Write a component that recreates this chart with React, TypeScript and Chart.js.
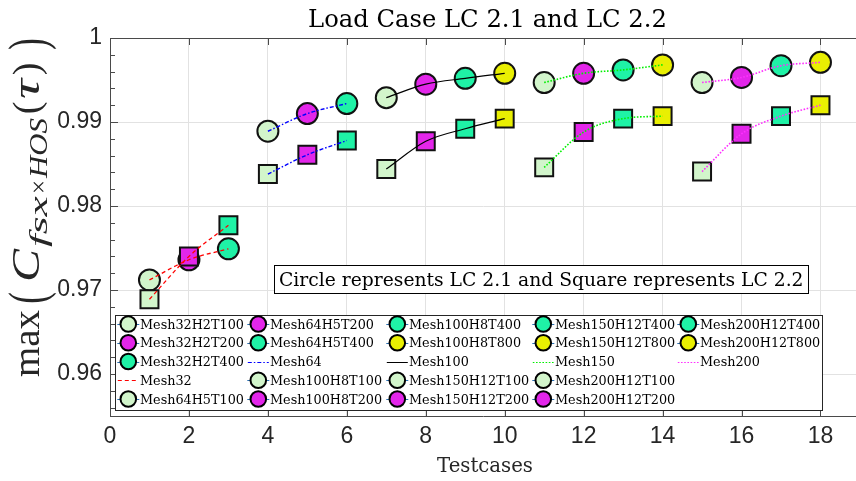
import React, { useEffect, useRef } from 'react';
import { Chart, registerables } from 'chart.js';

Chart.register(...registerables);

// ---------------- data ----------------
const caseNames = [
  'Mesh32H2T100', 'Mesh32H2T200', 'Mesh32H2T400',
  'Mesh64H5T100', 'Mesh64H5T200', 'Mesh64H5T400',
  'Mesh100H8T100', 'Mesh100H8T200', 'Mesh100H8T400', 'Mesh100H8T800',
  'Mesh150H12T100', 'Mesh150H12T200', 'Mesh150H12T400', 'Mesh150H12T800',
  'Mesh200H12T100', 'Mesh200H12T200', 'Mesh200H12T400', 'Mesh200H12T800',
];
const testcases = [1, 2, 3, 4, 5, 6, 7, 8, 9, 10, 11, 12, 13, 14, 15, 16, 17, 18];
// LC 2.1 (circles)
const lc21 = [0.9712, 0.9736, 0.9749, 0.9889, 0.9910, 0.9922, 0.9929, 0.9945, 0.9952, 0.9958,
  0.9947, 0.9958, 0.9962, 0.9968, 0.9947, 0.9953, 0.9967, 0.9971];
// LC 2.2 (squares)
const lc22 = [0.9689, 0.9740, 0.9777, 0.9838, 0.9861, 0.9878, 0.9844, 0.9877, 0.9892, 0.9904,
  0.9846, 0.9888, 0.9904, 0.9907, 0.9841, 0.9886, 0.9907, 0.9920];
const meshNames = ['Mesh32', 'Mesh64', 'Mesh100', 'Mesh150', 'Mesh200'];
const xTicks = [0, 2, 4, 6, 8, 10, 12, 14, 16, 18];
const xTickLabels = ['0', '2', '4', '6', '8', '10', '12', '14', '16', '18'];
const yTicks = [0.96, 0.97, 0.98, 0.99, 1];
const yTickLabels = ['0.96', '0.97', '0.98', '0.99', '1'];
const titleText = 'Load Case LC 2.1 and LC 2.2';
const xTitleText = 'Testcases';
const noteText = 'Circle represents LC 2.1 and Square represents LC 2.2';

// ---------------- styles ----------------
const tColors: Record<string, string> = {
  T100: '#d2f5cb',
  T200: '#e326ea',
  T400: '#1ff2a6',
  T800: '#e9ef02',
};
const meshStyles: Record<string, { color: string; dash: number[]; width: number }> = {
  Mesh32: { color: '#ff0000', dash: [4, 3], width: 1.3 },
  Mesh64: { color: '#0000ff', dash: [4, 2, 1.5, 2], width: 1.4 },
  Mesh100: { color: '#000000', dash: [], width: 1.2 },
  Mesh150: { color: '#00f000', dash: [1.6, 1.6], width: 1.6 },
  Mesh200: { color: '#ff30ff', dash: [1.6, 1.6], width: 1.6 },
};
const meshOf = (n: string) => (n.match(/^Mesh\d+/) as RegExpMatchArray)[0];
const tOf = (n: string) => (n.match(/T\d+$/) as RegExpMatchArray)[0];

const AXIS_COLOR = '#4a4a4a';
const SERIF = '"DejaVu Serif", serif';
const LSERIF = '"Liberation Serif", serif';

function fitFont(ctx: CanvasRenderingContext2D, text: string, target: number, family: string, style = '') {
  ctx.font = `${style} 100px ${family}`;
  const w = ctx.measureText(text).width;
  return (100 * target) / w;
}

const overlayPlugin = {
  id: 'overlay',
  beforeDatasetsDraw(chart: any) {
    const ctx: CanvasRenderingContext2D = chart.ctx;
    const { left, right, top, bottom } = chart.chartArea;
    const xs = chart.scales.x;
    const ys = chart.scales.y;
    ctx.save();
    ctx.strokeStyle = AXIS_COLOR;
    ctx.lineWidth = 1;
    ctx.beginPath();
    ctx.moveTo(left, Math.round(top) + 0.5);
    ctx.lineTo(right, Math.round(top) + 0.5);
    xTicks.forEach((v) => {
      const px = Math.round(xs.getPixelForValue(v)) + 0.5;
      ctx.moveTo(px, bottom);
      ctx.lineTo(px, bottom - 7);
      ctx.moveTo(px, top);
      ctx.lineTo(px, top + 7);
    });
    for (let k = 478; k <= 500; k++) {
      const v = k / 500;
      const py = Math.round(ys.getPixelForValue(v)) + 0.5;
      const major = k % 5 === 0;
      ctx.moveTo(left, py);
      ctx.lineTo(left + (major ? 8 : 5), py);
    }
    ctx.stroke();
    ctx.restore();
  },
  afterDraw(chart: any) {
    const ctx: CanvasRenderingContext2D = chart.ctx;
    ctx.save();

    // title
    let fs = fitFont(ctx, titleText, 359, SERIF);
    ctx.font = `${fs}px ${SERIF}`;
    ctx.fillStyle = '#000';
    ctx.textAlign = 'center';
    ctx.textBaseline = 'alphabetic';
    ctx.fillText(titleText, 487.5, 27);

    // x title
    fs = fitFont(ctx, xTitleText, 96, SERIF);
    ctx.font = `${fs}px ${SERIF}`;
    ctx.fillStyle = '#262626';
    ctx.fillText(xTitleText, 485, 472);

    // annotation box
    ctx.fillStyle = '#fff';
    ctx.fillRect(274, 265, 534, 28.5);
    ctx.strokeStyle = '#000';
    ctx.lineWidth = 1;
    ctx.strokeRect(274.5, 265.5, 534, 28);
    fs = fitFont(ctx, noteText, 525, SERIF);
    ctx.font = `${fs}px ${SERIF}`;
    ctx.fillStyle = '#000';
    ctx.textAlign = 'left';
    ctx.fillText(noteText, 279, 286);

    // legend
    const lx = 115, ly = 315, lw = 707, lh = 95;
    ctx.fillStyle = '#fff';
    ctx.fillRect(lx, ly, lw, lh);
    ctx.strokeStyle = '#262626';
    ctx.strokeRect(lx + 0.5, ly + 0.5, lw, lh);
    const colX = [128.3, 258.3, 397.3, 543.3, 688.3];
    const entries: { kind: string; name: string }[] = [];
    meshNames.forEach((m) => {
      caseNames.filter((n) => meshOf(n) === m).forEach((n) => entries.push({ kind: 'marker', name: n }));
      entries.push({ kind: 'line', name: m });
    });
    fs = fitFont(ctx, 'Mesh32H2T100', 104, SERIF);
    entries.forEach((e, i) => {
      const col = Math.floor(i / 5);
      const row = i % 5;
      const cx = colX[col];
      const cy = 324 + row * 18.75;
      const ly2 = Math.round(cy) + 0.5;
      if (e.kind === 'marker') {
        ctx.save();
        ctx.strokeStyle = '#2a6fb0';
        ctx.lineWidth = 1;
        ctx.beginPath();
        ctx.moveTo(cx - 11, ly2);
        ctx.lineTo(cx + 11, ly2);
        ctx.stroke();
        ctx.restore();
        ctx.beginPath();
        ctx.arc(cx, cy, 7.8, 0, Math.PI * 2);
        ctx.fillStyle = tColors[tOf(e.name)];
        ctx.fill();
        ctx.lineWidth = 2;
        ctx.strokeStyle = '#000';
        ctx.stroke();
      } else {
        const st = meshStyles[e.name];
        ctx.save();
        ctx.strokeStyle = st.color;
        ctx.lineWidth = 1;
        ctx.setLineDash(st.dash);
        ctx.beginPath();
        ctx.moveTo(cx - 10.5, ly2);
        ctx.lineTo(cx + 10.5, ly2);
        ctx.stroke();
        ctx.restore();
      }
      ctx.font = `${fs}px ${SERIF}`;
      ctx.fillStyle = '#000';
      ctx.textAlign = 'left';
      ctx.textBaseline = 'alphabetic';
      ctx.fillText(e.name, cx + 11.7, cy + 4.6);
    });

    // y label: max ( C_{fsx x HOS}(tau) ), pieces laid along the rotated baseline
    // fit: stretch piece to span from..to; otherwise centre it at natural width
    const pieces: { t: string; f: string; dy: number; sy: number; from: number; to: number; fit: boolean }[] = [
      { t: 'max', f: `38px ${LSERIF}`, dy: 0, sy: 1, from: 377, to: 310, fit: true },
      { t: '(', f: `35px ${LSERIF}`, dy: 6.8, sy: 1.5, from: 309, to: 287, fit: false },
      { t: 'C', f: `italic 39px ${LSERIF}`, dy: 0, sy: 1, from: 282, to: 249, fit: true },
      { t: 'fsx', f: `italic 26px ${LSERIF}`, dy: 8, sy: 1, from: 247, to: 196, fit: true },
      { t: '×', f: `26px ${LSERIF}`, dy: 8, sy: 1, from: 194, to: 180, fit: true },
      { t: 'HOS', f: `italic 26px ${LSERIF}`, dy: 8, sy: 1, from: 178, to: 118, fit: true },
      { t: '(', f: `38px ${LSERIF}`, dy: 0, sy: 1, from: 115, to: 101, fit: false },
      { t: 'τ', f: `italic 38px ${LSERIF}`, dy: 0, sy: 1, from: 99, to: 79, fit: true },
      { t: ')', f: `38px ${LSERIF}`, dy: 0, sy: 1, from: 76, to: 62, fit: false },
      { t: ')', f: `35px ${LSERIF}`, dy: 6.8, sy: 1.5, from: 55, to: 33, fit: false },
    ];
    ctx.fillStyle = '#262626';
    ctx.textAlign = 'left';
    ctx.textBaseline = 'alphabetic';
    pieces.forEach((p) => {
      ctx.save();
      ctx.font = p.f;
      const w = ctx.measureText(p.t).width;
      const span = p.from - p.to;
      const sx = p.fit ? span / w : 1;
      const start = p.fit ? p.from : p.from - (span - w) / 2;
      ctx.translate(38.5 + p.dy, start);
      ctx.rotate(-Math.PI / 2);
      ctx.scale(sx, p.sy);
      ctx.fillText(p.t, 0, 0);
      ctx.restore();
    });
    ctx.restore();
  },
};

export default function App() {
  const ref = useRef<HTMLCanvasElement | null>(null);
  useEffect(() => {
    document.body.style.margin = '0';
    const canvas = ref.current as HTMLCanvasElement;
    const pts = (vals: number[], idx: number[]) => idx.map((i) => ({ x: testcases[i], y: vals[i] }));
    const all = testcases.map((_, i) => i);
    const pointColors = caseNames.map((n) => tColors[tOf(n)]);

    const lineSets: any[] = [];
    meshNames.forEach((m) => {
      const idx = all.filter((i) => meshOf(caseNames[i]) === m);
      const st = meshStyles[m];
      [lc21, lc22].forEach((vals, k) => {
        lineSets.push({
          label: `${m} LC${k === 0 ? '2.1' : '2.2'}`,
          data: pts(vals, idx),
          showLine: true,
          borderColor: st.color,
          borderDash: st.dash,
          borderWidth: st.width,
          pointRadius: 0,
          cubicInterpolationMode: 'monotone',
          order: 1,
        });
      });
    });

    const chart = new Chart(canvas, {
      type: 'scatter',
      data: {
        datasets: [
          ...lineSets,
          {
            label: 'LC 2.2',
            data: pts(lc22, all),
            pointStyle: 'rect',
            pointRadius: 12.7,
            pointBorderWidth: 2,
            pointBorderColor: '#111',
            pointBackgroundColor: pointColors,
            showLine: false,
            order: 2,
          },
          {
            label: 'LC 2.1',
            data: pts(lc21, all),
            pointStyle: 'circle',
            pointRadius: 10.5,
            pointBorderWidth: 2,
            pointBorderColor: '#111',
            pointBackgroundColor: pointColors,
            showLine: false,
            order: 3,
          },
        ] as any,
      },
      options: {
        animation: false,
        responsive: false,
        devicePixelRatio: 1,
        layout: { autoPadding: false, padding: { top: 38, right: 0, bottom: 0, left: 0 } },
        plugins: { legend: { display: false }, tooltip: { enabled: false }, title: { display: false } },
        scales: {
          x: {
            type: 'linear',
            min: 0,
            max: 18.9,
            afterFit: (s: any) => { s.height = 65; s.paddingRight = 0; s.paddingLeft = 0; },
            afterBuildTicks: (s: any) => { s.ticks = xTicks.map((v) => ({ value: v })); },
            ticks: {
              callback: (v: any) => xTickLabels[xTicks.indexOf(Number(v))] ?? '',
              font: { family: '"Liberation Sans", Arial, sans-serif', size: 23 },
              color: '#262626',
              padding: 7,
              maxRotation: 0,
              autoSkip: false,
            },
            grid: { color: '#e2e2e2', drawTicks: false, lineWidth: 1 },
            border: { display: true, color: AXIS_COLOR, width: 1 },
          },
          y: {
            type: 'linear',
            min: 0.955,
            max: 1,
            afterFit: (s: any) => { s.width = 110; },
            afterBuildTicks: (s: any) => { s.ticks = yTicks.map((v) => ({ value: v })); },
            ticks: {
              callback: (v: any) => {
                const i = yTicks.findIndex((t) => Math.abs(t - Number(v)) < 1e-9);
                return i >= 0 ? yTickLabels[i] : '';
              },
              font: { family: '"Liberation Sans", Arial, sans-serif', size: 23 },
              color: '#262626',
              padding: 8,
              autoSkip: false,
            },
            grid: { color: '#e2e2e2', drawTicks: false, lineWidth: 1 },
            border: { display: true, color: AXIS_COLOR, width: 1 },
          },
        },
      } as any,
      plugins: [overlayPlugin],
    });
    return () => chart.destroy();
  }, []);

  return (
    <div style={{ width: 856, height: 481, overflow: 'hidden', background: '#fff' }}>
      <canvas ref={ref} width={856} height={481} style={{ display: 'block' }} />
    </div>
  );
}
